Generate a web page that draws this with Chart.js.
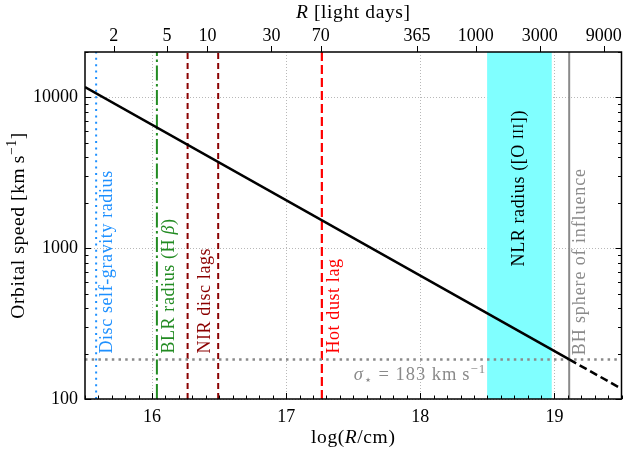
<!DOCTYPE html>
<html lang="en">
<head>
<meta charset="UTF-8">
<title>Orbital speed</title>
<script src="https://cdn.jsdelivr.net/npm/chart.js"></script>
<style>
  html, body { margin: 0; padding: 0; background: #fff; }
</style>
</head>
<body>
<canvas id="speedChart" width="623" height="453"></canvas>
<script>
// Keplerian speed profile: log(R/cm) -> km/s
const curveLogR = [15.5, 19.11, 19.5];
const curveSpeed = [11700, 183, 117];

// characteristic radii, log(R/cm)
const discGravityLogR = 15.583;
const blrLogR = 16.036;
const nirLagLogR = [16.265, 16.493];
const hotDustLogR = 17.266;
const nlrLogR = [18.498, 18.98];
const bhInfluenceLogR = 19.11;

// stellar velocity dispersion, km/s
const sigmaStar = 183;

// axis ticks
const logRTicks = [16, 17, 18, 19];
const speedTicks = [100, 1000, 10000];
const lightDayTicks = [2, 5, 10, 30, 70, 365, 1000, 3000, 9000];

const LIGHT_DAY_CM = 2.59e15;
const X_MIN = 15.5, X_MAX = 19.5;
const Y_MIN = 100, Y_MAX = 20000;
const FONT = '"Liberation Serif", "DejaVu Serif", serif';

function vline(v, color, dash, width) {
    return {
        data: [{x: v, y: Y_MIN}, {x: v, y: Y_MAX}],
        borderColor: color, borderDash: dash, borderWidth: width,
        borderCapStyle: 'butt', pointRadius: 0, fill: false
    };
}

// draws a string made of runs with different styles (italic, sup, sub, small caps)
function drawRuns(ctx, runs, x, y, opts) {
    const size = opts.size || 18;
    const fontFor = st => {
        let s = size;
        if (st === 'sup' || st === 'sub') s = size * 0.7;
        if (st === 'sc') s = size * 0.78;
        return (st === 'i' ? 'italic ' : '') + s.toFixed(1) + 'px ' + FONT;
    };
    ctx.save();
    ctx.letterSpacing = opts.spacing || '0px';
    let total = 0;
    const widths = runs.map(([t, st]) => {
        ctx.font = fontFor(st);
        const w = ctx.measureText(t).width;
        total += w;
        return w;
    });
    ctx.translate(x, y);
    ctx.rotate(opts.angle || 0);
    ctx.fillStyle = opts.color || '#000';
    ctx.textBaseline = opts.baseline || 'alphabetic';
    ctx.textAlign = 'left';
    let cx = opts.align === 'center' ? -total / 2 : opts.align === 'right' ? -total : 0;
    runs.forEach(([t, st], i) => {
        ctx.font = fontFor(st);
        let dy = 0;
        if (st === 'sup') dy = -size * 0.4;
        if (st === 'sub') dy = size * 0.22;
        ctx.fillText(t, cx, dy);
        cx += widths[i];
    });
    ctx.restore();
}

const frame = {
    id: 'frame',
    beforeDatasetsDraw(chart) {
        const {ctx, chartArea: a, scales: {x, y}} = chart;
        ctx.save();
        // dotted grid
        ctx.strokeStyle = '#b8b8b8';
        ctx.lineWidth = 1;
        ctx.setLineDash([1, 2]);
        ctx.beginPath();
        logRTicks.forEach(v => {
            const px = Math.round(x.getPixelForValue(v)) + 0.5;
            ctx.moveTo(px, a.top); ctx.lineTo(px, a.bottom);
        });
        speedTicks.forEach(v => {
            const py = Math.round(y.getPixelForValue(v)) + 0.5;
            ctx.moveTo(a.left, py); ctx.lineTo(a.right, py);
        });
        ctx.stroke();
        // NLR band
        const b0 = x.getPixelForValue(nlrLogR[0]);
        const b1 = x.getPixelForValue(nlrLogR[1]);
        ctx.fillStyle = '#80ffff';
        ctx.fillRect(b0, a.top, b1 - b0, a.bottom - a.top);
        ctx.restore();
    },
    afterDatasetsDraw(chart) {
        const {ctx, chartArea: a, scales: {x, y, xTop}} = chart;
        ctx.save();
        ctx.strokeStyle = '#000';
        ctx.setLineDash([]);
        // ticks, pointing in on bottom/left/right, out on top
        ctx.lineWidth = 1;
        ctx.beginPath();
        for (let k = 0; k <= 40; k++) {
            const v = X_MIN + k * 0.1;
            const major = Math.abs(v - Math.round(v)) < 1e-6;
            const px = Math.round(x.getPixelForValue(v)) + 0.5;
            ctx.moveTo(px, a.bottom); ctx.lineTo(px, a.bottom - (major ? 6 : 3.5));
        }
        for (let d = 100; d < Y_MAX; d *= 10) {
            for (let m = 1; m <= 9; m++) {
                const v = d * m;
                if (v > Y_MAX) break;
                const len = m === 1 ? 6 : 3.5;
                const py = Math.round(y.getPixelForValue(v)) + 0.5;
                ctx.moveTo(a.left, py); ctx.lineTo(a.left + len, py);
                ctx.moveTo(a.right, py); ctx.lineTo(a.right - len, py);
            }
        }
        lightDayTicks.forEach(d => {
            const px = Math.round(xTop.getPixelForValue(Math.log10(d * LIGHT_DAY_CM))) + 0.5;
            ctx.moveTo(px, a.top); ctx.lineTo(px, a.top - 6);
        });
        ctx.stroke();
        // spines
        ctx.lineWidth = 1.5;
        ctx.strokeRect(a.left, a.top, a.right - a.left, a.bottom - a.top);
        ctx.restore();

        const up = -Math.PI / 2;
        const sp = '0.6px';
        const py200 = y.getPixelForValue(200);
        drawRuns(ctx, [['Disc self-gravity radius', '']],
            x.getPixelForValue(discGravityLogR) + 16, py200, {angle: up, color: '#1e90ff', spacing: sp});
        drawRuns(ctx, [['BLR radius (H\u2009', ''], ['β', 'i'], [')', '']],
            x.getPixelForValue(blrLogR) + 17, py200, {angle: up, color: '#228b22', spacing: sp});
        drawRuns(ctx, [['NIR disc lags', '']],
            x.getPixelForValue(nirLagLogR[0]) + 22, py200, {angle: up, color: '#8b0000', spacing: sp});
        drawRuns(ctx, [['Hot dust lag', '']],
            x.getPixelForValue(hotDustLogR) + 17, py200, {angle: up, color: '#ff0000', spacing: sp});
        drawRuns(ctx, [['NLR radius ([O ', ''], ['III', 'sc'], ['])', '']],
            (x.getPixelForValue(nlrLogR[0]) + x.getPixelForValue(nlrLogR[1])) / 2, y.getPixelForValue(2500),
            {angle: up, color: '#000', spacing: sp, align: 'center', baseline: 'middle'});
        drawRuns(ctx, [['BH sphere of influence', '']],
            x.getPixelForValue(bhInfluenceLogR) + 16, y.getPixelForValue(195),
            {angle: up, color: '#8a8a8a', spacing: '0.9px'});
        drawRuns(ctx, [['σ', 'i'], ['⋆', 'sub'], [' = ' + sigmaStar + ' km\u2009s', ''], ['−1', 'sup']],
            x.getPixelForValue(nlrLogR[0]) - 1, a.bottom - 19,
            {color: '#8a8a8a', spacing: '1px', align: 'right', size: 18.5});

        // axis titles
        const midX = (a.left + a.right) / 2;
        const ts = {spacing: '0.6px', size: 19.5};
        drawRuns(ctx, [['log(', ''], ['R', 'i'], ['/cm)', '']], midX, 443, {...ts, align: 'center'});
        drawRuns(ctx, [['R', 'i'], [' [light days]', '']], midX, 18, {...ts, align: 'center'});
        drawRuns(ctx, [['Orbital speed [km\u2009s', ''], ['−1', 'sup'], [']', '']],
            24, (a.top + a.bottom) / 2, {...ts, angle: up, align: 'center'});
    }
};

// fixed axis band sizes, no extra room for overhanging labels
const fixBox = (w, h) => s => {
    if (w !== null) s.width = w;
    if (h !== null) s.height = h;
    s.paddingLeft = 0; s.paddingRight = 0; s.paddingTop = 0; s.paddingBottom = 0;
};

const ctx = document.getElementById('speedChart').getContext('2d');
new Chart(ctx, {
    type: 'line',
    data: {
        datasets: [
            {
                data: [{x: curveLogR[0], y: curveSpeed[0]}, {x: curveLogR[1], y: curveSpeed[1]}],
                borderColor: '#000', borderWidth: 2.5, pointRadius: 0, fill: false
            },
            {
                data: [{x: curveLogR[1], y: curveSpeed[1]}, {x: curveLogR[2], y: curveSpeed[2]}],
                borderColor: '#000', borderWidth: 2.5, borderDash: [8, 4], pointRadius: 0, fill: false
            },
            {
                data: [{x: X_MIN, y: sigmaStar}, {x: X_MAX, y: sigmaStar}],
                borderColor: '#8a8a8a', borderWidth: 2.5, borderDash: [2.5, 4.2],
                borderCapStyle: 'butt', pointRadius: 0, fill: false
            },
            vline(discGravityLogR, '#1e90ff', [2, 4.4], 2),
            vline(blrLogR, '#228b22', [15, 3.5, 2.5, 3.5], 2),
            vline(nirLagLogR[0], '#8b0000', [6, 4], 2),
            vline(nirLagLogR[1], '#8b0000', [6, 4], 2),
            vline(hotDustLogR, '#ff0000', [9, 4], 2.2),
            vline(bhInfluenceLogR, '#8a8a8a', [], 2)
        ]
    },
    options: {
        responsive: false,
        animation: false,
        events: [],
        layout: {padding: {left: 0, right: 1.5, top: 0, bottom: 0}},
        plugins: {legend: {display: false}, tooltip: {enabled: false}},
        scales: {
            x: {
                type: 'linear', position: 'bottom', min: X_MIN, max: X_MAX,
                afterBuildTicks: s => { s.ticks = logRTicks.map(v => ({value: v})); },
                afterFit: fixBox(null, 54),
                grid: {display: false, drawTicks: false}, border: {display: false},
                ticks: {color: '#000', font: {family: FONT, size: 18}, padding: 7, maxRotation: 0,
                        callback: v => String(v)}
            },
            xTop: {
                type: 'linear', position: 'top', min: X_MIN, max: X_MAX,
                afterBuildTicks: s => {
                    s.ticks = lightDayTicks.map(d => ({value: Math.log10(d * LIGHT_DAY_CM)}));
                },
                afterFit: fixBox(null, 52),
                grid: {display: false, drawTicks: false}, border: {display: false},
                ticks: {color: '#000', font: {family: FONT, size: 18}, padding: 5, maxRotation: 0,
                        autoSkip: false, callback: (v, i) => String(lightDayTicks[i])}
            },
            y: {
                type: 'logarithmic', min: Y_MIN, max: Y_MAX,
                afterBuildTicks: s => { s.ticks = speedTicks.map(v => ({value: v})); },
                afterFit: fixBox(85, null),
                grid: {display: false, drawTicks: false}, border: {display: false},
                ticks: {color: '#000', font: {family: FONT, size: 18}, padding: 7,
                        callback: v => String(v)}
            }
        }
    },
    plugins: [frame]
});
</script>
</body>
</html>
